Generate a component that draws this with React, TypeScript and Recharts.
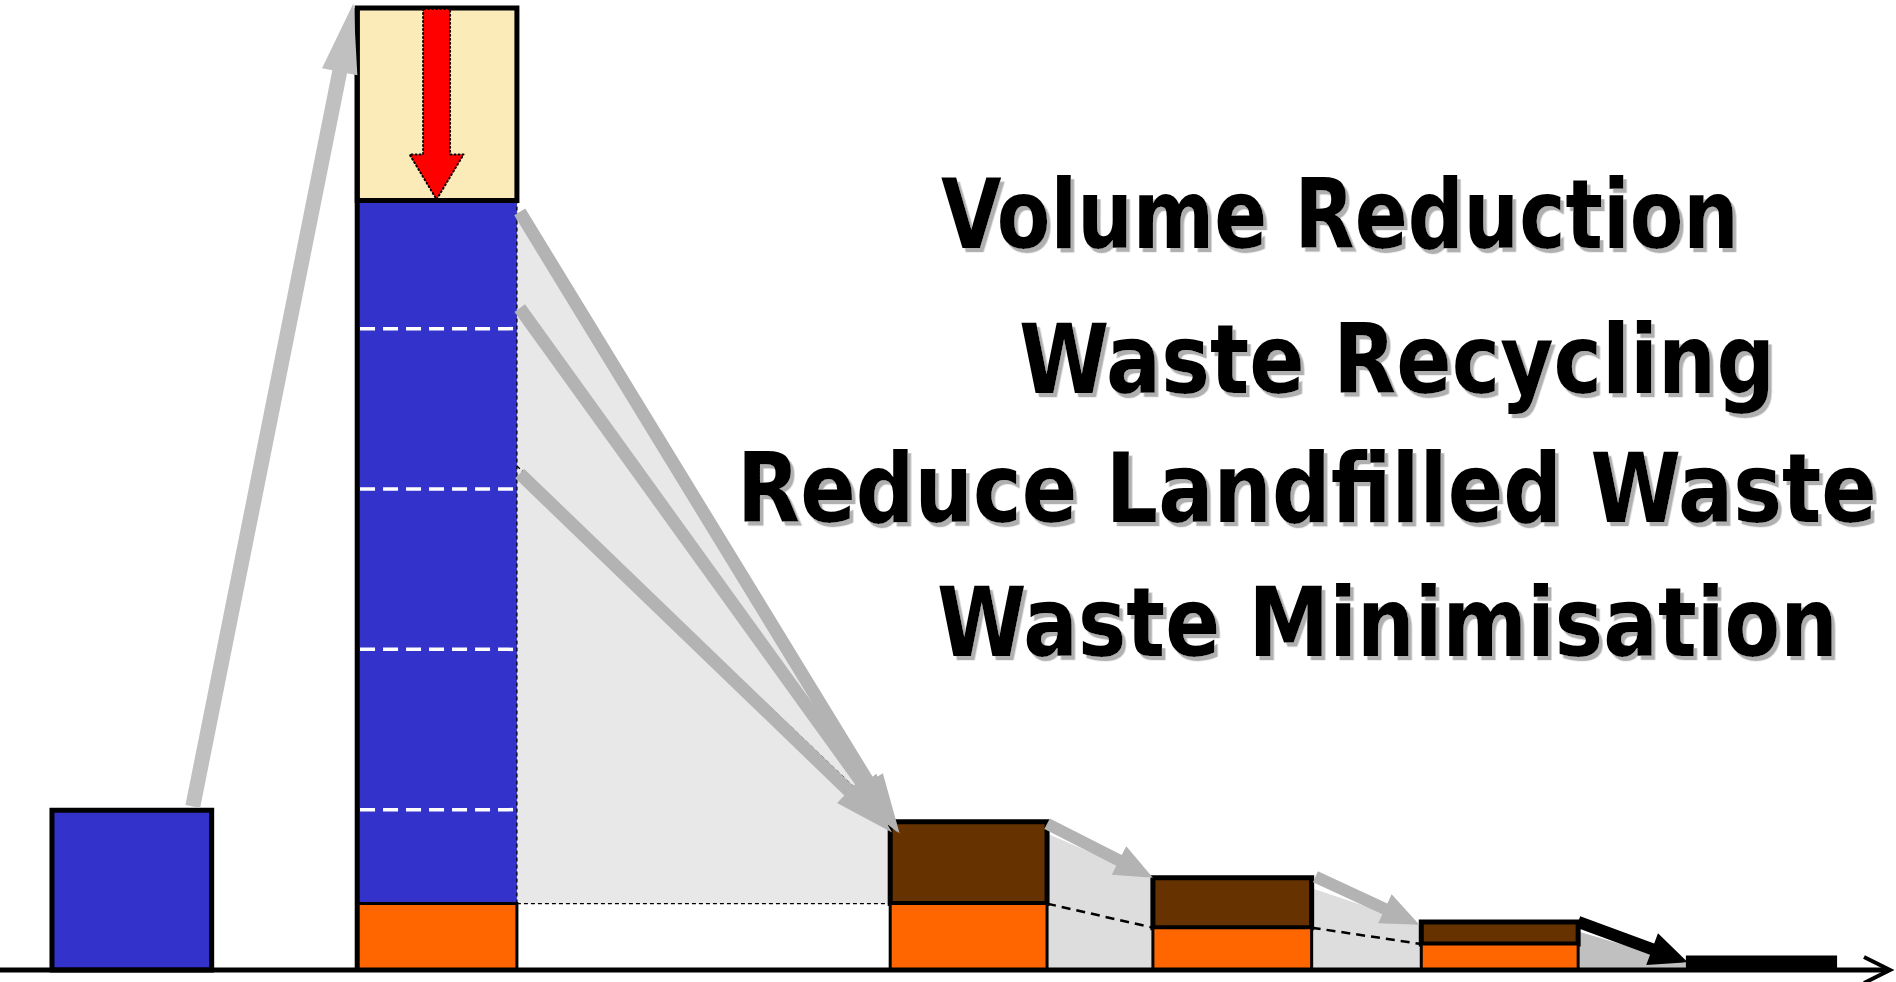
import { ComposedChart, XAxis, YAxis, Area, ReferenceArea, ReferenceLine } from "recharts"

// stages of the waste chain, left to right (x in % of width, y in % of collected waste)
const stages = ["Arising", "Collected", "Recycled", "Treated", "Residue", "Landfill"]
const stageLeft = [2.75, 18.9, 47.1, 61.0, 75.2, 89.2]
const stageRight = [11.2, 27.35, 55.4, 69.4, 83.5, 97.2]

// stacked segments, bottom to top
const ashValues = [0, 6.9, 6.9, 4.4, 2.7, 0]
const wasteValues = [16.6, 73.1, 0, 0, 0, 0]
const recycledValues = [0, 0, 8.5, 5.2, 2.3, 0]
const reducedValues = [0, 20, 0, 0, 0, 0]
const landfillValues = [0, 0, 0, 0, 0, 1.5]

// white dashes splitting the collected waste
const minimisationSteps = [16.67, 33.33, 50, 66.67]

// grey transfer bands between stages
const flowFrom = [1, 2, 3, 4]
const flowBase = [6.9, 0, 0, 0]
const flowTopStart = [79, 14.2, 8.5, 4.0]
const flowTopEnd = [15.4, 9.4, 4.7, 0.7]
const flowColors = ["#e8e8e8", "#dddddd", "#dddddd", "#c0c0c0"]

// dashed residue lines
const dashX0 = [27.35, 27.35, 55.4, 69.4]
const dashY0 = [6.9, 52.4, 6.9, 4.4]
const dashX1 = [47.1, 47.1, 61.0, 75.2]
const dashY1 = [6.9, 15.4, 4.4, 2.7]

// arrows
const arrowX0 = [10.2, 27.5, 27.5, 27.5, 55.4, 69.6, 83.5]
const arrowY0 = [17.0, 78.8, 68.8, 51.6, 15.2, 9.7, 5.0]
const arrowX1 = [18.7, 47.6, 47.5, 47.2, 61.0, 75.1, 89.3]
const arrowY1 = [100.5, 14.2, 14.3, 14.3, 9.6, 4.7, 0.8]
const arrowStyle = [0, 1, 1, 1, 2, 2, 3]

const titles = ["Volume Reduction", "Waste Recycling", "Reduce Landfilled Waste", "Waste Minimisation"]
const titleX = [941, 1019, 737, 937]
const titleW = [798, 756, 1140, 901]
const titleY = [248, 393, 522, 656]

const styles = [
  { fill: "#c0c0c0", shaft: 15, head: 70, half: 18 },
  { fill: "#b3b3b3", shaft: 13, head: 60, half: 17 },
  { fill: "#b3b3b3", shaft: 12, head: 38, half: 16 },
  { fill: "#000000", shaft: 12, head: 38, half: 17 },
]

function arrowPoints(x1: number, y1: number, x2: number, y2: number, shaft: number, head: number, half: number) {
  const len = Math.hypot(x2 - x1, y2 - y1)
  const ux = (x2 - x1) / len
  const uy = (y2 - y1) / len
  const px = -uy
  const py = ux
  const bx = x2 - ux * head
  const by = y2 - uy * head
  const s = shaft / 2
  const pts = [
    [x1 + px * s, y1 + py * s],
    [bx + px * s, by + py * s],
    [bx + px * half, by + py * half],
    [x2, y2],
    [bx - px * half, by - py * half],
    [bx - px * s, by - py * s],
    [x1 - px * s, y1 - py * s],
  ]
  return pts.map((p) => p.join(",")).join(" ")
}

function arrowShape(fill: string, shaft: number, head: number, half: number, dotted = false) {
  return (p: any) => (
    <polygon
      points={arrowPoints(p.x1, p.y1, p.x2, p.y2, shaft, head, half)}
      fill={fill}
      stroke={dotted ? "#000" : "none"}
      strokeWidth={dotted ? 2 : 0}
      strokeDasharray={dotted ? "1 3" : undefined}
      strokeLinecap="round"
    />
  )
}

function axisShape(p: any) {
  return (
    <g>
      <line x1={p.x1} y1={p.y1} x2={p.x2 - 2} y2={p.y2} stroke="#000" strokeWidth={5} />
      <polyline
        points={`${p.x2 - 26},${p.y2 - 13} ${p.x2},${p.y2} ${p.x2 - 26},${p.y2 + 13}`}
        fill="none"
        stroke="#000"
        strokeWidth={4}
      />
    </g>
  )
}

export default function App() {
  return (
    <div style={{ position: "fixed", left: 0, top: 0, width: 1896, height: 982, background: "#fff" }}>
      <ComposedChart width={1896} height={982} margin={{ top: 8, right: 6, bottom: 12, left: 0 }}>
        <XAxis type="number" dataKey="x" domain={[0, 100]} allowDataOverflow hide />
        <YAxis type="number" domain={[0, 100]} allowDataOverflow hide />

        {flowFrom.map((s, i) => (
          <Area
            key={"flow" + i}
            data={[
              { x: stageRight[s], band: [flowBase[i], flowTopStart[i]] },
              { x: stageLeft[s + 1], band: [flowBase[i], flowTopEnd[i]] },
            ]}
            dataKey="band"
            type="linear"
            stroke="none"
            fill={flowColors[i]}
            fillOpacity={1}
            dot={false}
            activeDot={false}
            isAnimationActive={false}
            zIndex={100}
          />
        ))}

        {dashX0.map((x, i) => (
          <ReferenceLine
            key={"dash" + i}
            segment={[{ x, y: dashY0[i] }, { x: dashX1[i], y: dashY1[i] }]}
            stroke="#000"
            strokeWidth={i < 2 ? 1.3 : 2.5}
            strokeDasharray={i < 2 ? "4 3" : "9 6"}
            ifOverflow="visible"
            zIndex={110}
          />
        ))}

        {stages.map((name, i) => {
          const a = ashValues[i]
          const w = a + wasteValues[i]
          const r = a + recycledValues[i]
          const box = { x1: stageLeft[i], x2: stageRight[i], ifOverflow: "visible" as const, fillOpacity: 1, zIndex: 200 }
          return [
            wasteValues[i] > 0 && (
              <ReferenceArea key={name + "w"} {...box} y1={a} y2={w} fill="#3333cc"
                stroke={i === 0 ? "#000" : "none"} strokeWidth={i === 0 ? 5 : 0} />
            ),
            recycledValues[i] > 0 && (
              <ReferenceArea key={name + "r"} {...box} y1={a} y2={r} fill="#663300" stroke="#000" strokeWidth={5} />
            ),
            a > 0 && (
              <ReferenceArea key={name + "a"} {...box} y1={0} y2={a} fill="#ff6600" stroke="#000" strokeWidth={3} />
            ),
            reducedValues[i] > 0 && (
              <ReferenceArea key={name + "c"} {...box} y1={w} y2={w + reducedValues[i]} fill="#faebb9" stroke="#000" strokeWidth={5} />
            ),
            landfillValues[i] > 0 && (
              <ReferenceArea key={name + "l"} {...box} y1={0} y2={landfillValues[i]} fill="#000" stroke="none" />
            ),
          ]
        })}

        <ReferenceLine
          segment={[{ x: stageLeft[1], y: 0 }, { x: stageLeft[1], y: 100 }]}
          stroke="#000"
          strokeWidth={5}
          ifOverflow="visible"
          zIndex={300}
        />
        <ReferenceLine
          segment={[{ x: stageRight[1], y: ashValues[1] }, { x: stageRight[1], y: ashValues[1] + wasteValues[1] }]}
          stroke="#000"
          strokeWidth={1.3}
          strokeDasharray="4 3"
          ifOverflow="visible"
          zIndex={300}
        />
        {minimisationSteps.map((v) => (
          <ReferenceLine
            key={"step" + v}
            segment={[{ x: stageLeft[1] + 0.15, y: v }, { x: stageRight[1] - 0.15, y: v }]}
            stroke="#fff"
            strokeWidth={3.5}
            strokeDasharray="15 8"
            ifOverflow="visible"
            zIndex={300}
          />
        ))}

        {arrowX0.map((x, i) => {
          const st = styles[arrowStyle[i]]
          return (
            <ReferenceLine
              key={"arrow" + i}
              segment={[{ x, y: arrowY0[i] }, { x: arrowX1[i], y: arrowY1[i] }]}
              ifOverflow="visible"
              shape={arrowShape(st.fill, st.shaft, st.head, st.half)}
              zIndex={400}
            />
          )
        })}

        <ReferenceLine
          segment={[{ x: 23.1, y: 99.9 }, { x: 23.1, y: 80.1 }]}
          ifOverflow="visible"
          shape={arrowShape("#ff0000", 27, 45, 27, true)}
          zIndex={500}
        />

        <ReferenceLine y={0} ifOverflow="visible" shape={axisShape} zIndex={450} />
      </ComposedChart>

      <svg width={1896} height={982} style={{ position: "absolute", left: 0, top: 0, pointerEvents: "none" }}>
        <defs>
          <filter id="titleShadow" x="-5%" y="-20%" width="110%" height="140%">
            <feDropShadow dx={3.5} dy={3.5} stdDeviation={0} floodColor="#b0b0b0" floodOpacity={1} />
          </filter>
        </defs>
        {titles.map((t, i) => (
          <g key={t} transform={`translate(${titleX[i]},${titleY[i]}) scale(1,1.2)`}>
            <text
              x={0}
              y={0}
              textLength={titleW[i]}
              lengthAdjust="spacingAndGlyphs"
              fontFamily="'DejaVu Sans Condensed', 'DejaVu Sans', sans-serif"
              fontWeight="bold"
              fontSize={80}
              fill="#000"
              filter="url(#titleShadow)"
            >
              {t}
            </text>
          </g>
        ))}
      </svg>
    </div>
  )
}
